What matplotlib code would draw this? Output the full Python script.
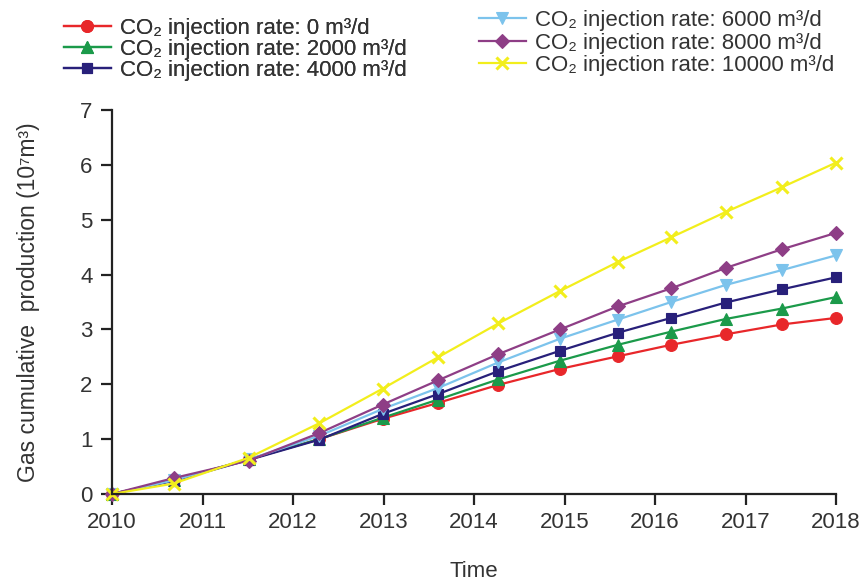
import matplotlib
matplotlib.use("Agg")
import matplotlib.pyplot as plt

plt.rcParams['font.family'] = ['Liberation Sans', 'DejaVu Sans']

# Time (years)
time = [2010.0, 2010.68, 2011.51, 2012.29, 2012.99, 2013.60, 2014.27,
        2014.95, 2015.59, 2016.18, 2016.78, 2017.40, 2018.0]

rate_0 = [0.0, 0.25, 0.63, 1.00, 1.37, 1.66, 1.99, 2.28, 2.51, 2.72, 2.91, 3.09, 3.21]
rate_2000 = [0.0, 0.25, 0.63, 1.00, 1.39, 1.72, 2.09, 2.43, 2.72, 2.96, 3.19, 3.38, 3.59]
rate_4000 = [0.0, 0.24, 0.62, 0.99, 1.46, 1.82, 2.24, 2.61, 2.94, 3.21, 3.49, 3.73, 3.95]
rate_6000 = [0.0, 0.25, 0.63, 1.06, 1.55, 1.93, 2.40, 2.83, 3.18, 3.50, 3.81, 4.08, 4.35]
rate_8000 = [0.0, 0.29, 0.61, 1.11, 1.63, 2.07, 2.55, 3.00, 3.42, 3.75, 4.12, 4.46, 4.76]
rate_10000 = [0.0, 0.19, 0.66, 1.29, 1.92, 2.49, 3.11, 3.70, 4.23, 4.68, 5.14, 5.59, 6.04]

labels = ["CO\u2082 injection rate: 0 m\u00b3/d",
          "CO\u2082 injection rate: 2000 m\u00b3/d",
          "CO\u2082 injection rate: 4000 m\u00b3/d",
          "CO\u2082 injection rate: 6000 m\u00b3/d",
          "CO\u2082 injection rate: 8000 m\u00b3/d",
          "CO\u2082 injection rate: 10000 m\u00b3/d"]
series = [rate_0, rate_2000, rate_4000, rate_6000, rate_8000, rate_10000]
colors = ['#E8272A', '#1B9A4A', '#28207A', '#7CC3EC', '#8E3E86', '#F2EE1C']
markers = ['o', '^', 's', 'v', 'D', 'x']
msizes = [8.5, 8.5, 7.5, 8.5, 7.5, 9]

fig = plt.figure(figsize=(8.67, 5.81), dpi=100)
ax = fig.add_axes([112/867, 1 - 494/581, (836-112)/867, (494-110)/581])

handles = []
for y, c, m, ms, lab in zip(series, colors, markers, msizes, labels):
    kw = dict(markeredgewidth=2.2) if m == 'x' else dict(markeredgewidth=0.8)
    h, = ax.plot(time, y, color=c, marker=m, markersize=ms, linewidth=1.6,
                 markerfacecolor=c, markeredgecolor=c, label=lab, clip_on=False, **kw)
    handles.append(h)

ax.set_xlim(2010, 2018)
ax.set_ylim(0, 7)
ax.set_xticks(range(2010, 2019))
ax.set_yticks(range(0, 8))
for s in ['top', 'right']:
    ax.spines[s].set_visible(False)
for s in ['left', 'bottom']:
    ax.spines[s].set_linewidth(1.6)
    ax.spines[s].set_color('#222222')
ax.tick_params(axis='both', direction='out', length=8, width=1.6, labelsize=16,
               colors='#222222', labelcolor='#333333')
ax.tick_params(axis='x', pad=5)
ax.tick_params(axis='y', pad=6)
ax.set_xlabel("Time", fontsize=16, labelpad=20, color='#333333')
ax.set_ylabel("Gas cumulative  production (10\u2077m\u00b3)", fontsize=16.5, labelpad=29,
              color='#333333')

leg_kw = dict(frameon=False, fontsize=16, handlelength=2.1, handletextpad=0.4,
              borderpad=0, labelcolor='#333333')
leg1 = fig.legend(handles[:3], labels[:3], loc='upper left',
                  bbox_to_anchor=(53/867, 1 - 7/581), labelspacing=0.0, **leg_kw)
leg2 = fig.legend(handles[3:], labels[3:], loc='upper left',
                  bbox_to_anchor=(468/867, 1 + 1/581), labelspacing=0.07, **leg_kw)
fig.add_artist(leg1)

fig.savefig("out.png", dpi=100)
